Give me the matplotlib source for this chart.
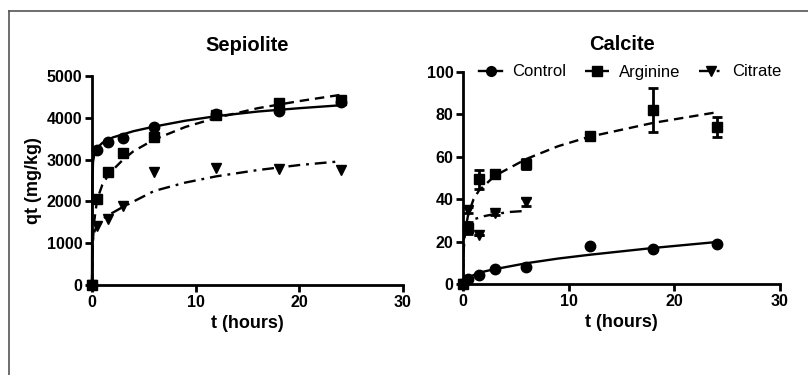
import matplotlib
matplotlib.use("Agg")
import matplotlib.pyplot as plt
from matplotlib.lines import Line2D

plt.rcParams['font.family'] = ['Liberation Sans', 'DejaVu Sans']

# sampling times (hours)
t_points = [0, 0.5, 1.5, 3, 6, 12, 18, 24]

# Sepiolite, measured qt (mg/kg)
sep_control = [0, 3230, 3420, 3515, 3780, 4090, 4160, 4380]
sep_arginine = [0, 2060, 2700, 3160, 3540, 4070, 4350, 4420]
sep_citrate = [0, 1400, 1580, 1890, 2710, 2800, 2780, 2750]

# Sepiolite fitted curves
sep_fit_control_t = [0, 0.02, 0.1, 0.25, 0.5, 1, 2, 4, 6, 9, 12, 16, 20, 24]
sep_fit_control = [0, 2300, 2950, 3150, 3280, 3400, 3530, 3680, 3790, 3930, 4040, 4150, 4230, 4300]
sep_fit_arginine_t = [0, 0.05, 0.2, 0.5, 1, 1.5, 2, 3, 4, 6, 9, 12, 16, 20, 24]
sep_fit_arginine = [0, 900, 1500, 2050, 2400, 2600, 2750, 3000, 3200, 3480, 3780, 4000, 4230, 4400, 4550]
sep_fit_citrate_t = [0, 0.05, 0.2, 0.5, 1, 1.5, 3, 6, 9, 12, 16, 20, 24]
sep_fit_citrate = [0, 1000, 1250, 1450, 1580, 1660, 1870, 2250, 2450, 2600, 2750, 2870, 2960]

# Calcite, measured qt (mg/kg)
cal_control = [0, 2.5, 4.2, 7, 8.2, 17.7, 16.7, 18.8]
cal_arginine = [0, 26.4, 49.5, 51.9, 56.6, 69.8, 82, 74.2]
cal_arginine_err = [0, 3, 4.5, 2, 2.5, 2, 10.5, 4.7]
cal_citrate_t = [0, 0.5, 1.5, 3, 6]
cal_citrate = [0, 35, 23, 33.4, 38.7]
cal_citrate_err = [0, 1.5, 0, 0.8, 2]

# Calcite fitted curves
cal_fit_control_t = [0, 0.1, 0.5, 1, 2, 3, 6, 9, 12, 18, 24]
cal_fit_control = [0, 1.5, 3, 4.2, 5.9, 7, 9.8, 12, 13.8, 17, 19.8]
cal_fit_arginine_t = [0, 0.05, 0.2, 0.5, 1, 1.5, 3, 6, 9, 12, 18, 24]
cal_fit_arginine = [0, 15, 25, 33, 40, 44, 51, 59, 65, 69.5, 76, 81]
cal_fit_citrate_t = [0, 0.05, 0.3, 1, 2, 3, 4.5, 6]
cal_fit_citrate = [0, 20, 28, 30.5, 32, 33, 34, 34.5]

labels = ["Control", "Arginine", "Citrate"]
markers = ["o", "s", "v"]
styles = ["-", (0, (4, 2.5)), (0, (5, 2.5, 1.2, 2.5))]

fig = plt.figure(figsize=(8.08, 3.75), dpi=100)

# outer frame lines (top and left)
fig.add_artist(Line2D([9 / 808, 1], [1 - 10.5 / 375, 1 - 10.5 / 375], color="#555555", lw=1.2))
fig.add_artist(Line2D([9 / 808, 9 / 808], [0, 1 - 10.5 / 375], color="#555555", lw=1.2))

ax1 = fig.add_axes([92 / 808, 1 - 285 / 375, 311 / 808, 209 / 375])
ax2 = fig.add_axes([463 / 808, 1 - 284 / 375, 317 / 808, 212 / 375])


def style_axis(ax):
    for s in ["top", "right"]:
        ax.spines[s].set_visible(False)
    for s in ["left", "bottom"]:
        ax.spines[s].set_linewidth(2)
    ax.tick_params(direction="out", length=5, width=2, labelsize=11.5, pad=2)
    for lbl in ax.get_xticklabels() + ax.get_yticklabels():
        lbl.set_fontweight("bold")
    ax.set_xlim(0, 30)
    ax.set_xticks([0, 10, 20, 30])
    ax.set_xlabel("t (hours)", fontsize=13, fontweight="bold", labelpad=4)


# Sepiolite
sep_data = [sep_control, sep_arginine, sep_citrate]
sep_fits = [(sep_fit_control_t, sep_fit_control), (sep_fit_arginine_t, sep_fit_arginine),
            (sep_fit_citrate_t, sep_fit_citrate)]
for i in range(3):
    ax1.plot(t_points, sep_data[i], marker=markers[i], ls="none", color="black",
             ms=7.5, clip_on=False, zorder=3)
    ax1.plot(sep_fits[i][0], sep_fits[i][1], ls=styles[i], color="black", lw=1.7, clip_on=False)
ax1.set_ylim(0, 5000)
ax1.set_yticks([0, 1000, 2000, 3000, 4000, 5000])
ax1.set_ylabel("qt (mg/kg)", fontsize=13, fontweight="bold", labelpad=3)
ax1.set_title("Sepiolite", fontsize=14.5, fontweight="bold", pad=18)
style_axis(ax1)

# Calcite
ax2.plot(t_points, cal_control, marker="o", ls="none", color="black", ms=7.5, clip_on=False, zorder=3)
ax2.errorbar(t_points, cal_arginine, yerr=cal_arginine_err, marker="s", ls="none", color="black",
             ms=7.5, capsize=3.5, elinewidth=2, capthick=2, clip_on=False, zorder=3)
ax2.errorbar(cal_citrate_t, cal_citrate, yerr=cal_citrate_err, marker="v", ls="none", color="black",
             ms=7.5, capsize=3.5, elinewidth=2, capthick=2, clip_on=False, zorder=3)
ax2.plot(cal_fit_control_t, cal_fit_control, ls=styles[0], color="black", lw=1.7)
ax2.plot(cal_fit_arginine_t, cal_fit_arginine, ls=styles[1], color="black", lw=1.7)
ax2.plot(cal_fit_citrate_t, cal_fit_citrate, ls=styles[2], color="black", lw=1.7)
ax2.set_ylim(0, 100)
ax2.set_yticks([0, 20, 40, 60, 80, 100])
ax2.set_title("Calcite", fontsize=14.5, fontweight="bold", pad=16)
style_axis(ax2)

handles = [Line2D([], [], color="black", marker=markers[i], ls=styles[i], lw=1.7, ms=7)
           for i in range(3)]
ax2.legend(handles, labels, loc="center left", bbox_to_anchor=(0.05, 1.0), ncol=3, frameon=False,
           fontsize=12, handlelength=1.4, handletextpad=0.6, columnspacing=1.15,
           borderpad=0, borderaxespad=0)

fig.savefig("out.png", dpi=100)
